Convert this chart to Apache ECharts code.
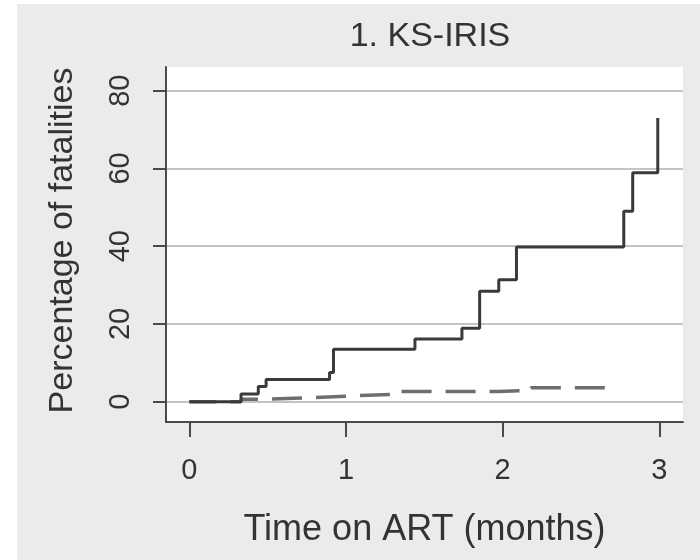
<!DOCTYPE html>
<html><head><meta charset="utf-8">
<script src="https://cdn.jsdelivr.net/npm/echarts@6/dist/echarts.min.js"></script>
<style>
html,body{margin:0;padding:0;background:#fff;}
#bg{position:absolute;left:17px;top:4px;width:683px;height:556px;background:#ebebeb;}
#c{position:absolute;left:0;top:0;width:700px;height:560px;}
</style></head><body>
<div id="bg"></div><div id="c"></div>
<script>
const titleText = '1. KS-IRIS';
const xAxisTitle = 'Time on ART (months)';
const yAxisTitle = 'Percentage of fatalities';
const xTicks = [0, 1, 2, 3];
const yTicks = [0, 20, 40, 60, 80];

// solid curve (step function, value holds from time onward)
const solidTime  = [0, 0.33, 0.44, 0.49, 0.895, 0.92, 1.44, 1.74, 1.853, 1.975, 2.088, 2.773, 2.83, 2.99];
const solidValue = [0, 2.0, 3.9, 5.7, 7.5, 13.5, 16.1, 18.9, 28.4, 31.4, 39.8, 49.0, 58.9, 73.0];

// dashed curve
const dashedTime  = [0, 0.33, 0.45, 0.8, 1.05, 1.35, 1.97, 2.18, 2.71];
const dashedValue = [0, 0.6, 1.1, 1.5, 2.0, 2.6, 2.9, 3.6, 3.6];

const FONT = 'Liberation Sans, Arial, Helvetica, sans-serif';
const TEXT = '#333333';
const AXIS = '#4a4a4a';

const zip = (a, b) => a.map((v, i) => [v, b[i]]);

const chart = echarts.init(document.getElementById('c'));
chart.setOption({
  backgroundColor: 'transparent',
  animation: false,
  title: {
    text: titleText,
    left: 425, top: 15, textAlign: 'center',
    textStyle: { fontFamily: FONT, fontSize: 34, fontWeight: 'normal', color: TEXT }
  },
  grid: {
    left: 166, right: 17, top: 67, bottom: 138,
    show: true, backgroundColor: '#ffffff', borderWidth: 0
  },
  xAxis: {
    type: 'value', min: -0.149, max: 3.151,
    name: xAxisTitle, nameLocation: 'middle', nameGap: 90,
    nameTextStyle: { fontFamily: FONT, fontSize: 36, color: TEXT },
    axisLine: { show: true, onZero: false, lineStyle: { color: AXIS, width: 2 } },
    axisTick: { show: true, customValues: xTicks, length: 15, inside: false, lineStyle: { color: AXIS, width: 2 } },
    axisLabel: { customValues: xTicks, margin: 34, fontFamily: FONT, fontSize: 29, color: TEXT },
    splitLine: { show: false }
  },
  yAxis: {
    type: 'value', min: -5.22, max: 86.09,
    name: yAxisTitle, nameLocation: 'middle', nameGap: 86, nameRotate: 90,
    nameTextStyle: { fontFamily: FONT, fontSize: 34, color: TEXT, padding: [0, 0, 0, 8] },
    axisLine: { show: true, onZero: false, lineStyle: { color: AXIS, width: 2 } },
    axisTick: { show: true, customValues: yTicks, length: 13, lineStyle: { color: AXIS, width: 2 } },
    axisLabel: { customValues: yTicks, rotate: 90, margin: 31, fontFamily: FONT, fontSize: 29, color: TEXT },
    splitLine: { show: true, lineStyle: { color: '#c4c4c4', width: 2 } }
  },
  series: [
    {
      type: 'line', step: 'end', data: zip(dashedTime, dashedValue),
      showSymbol: false, z: 2,
      lineStyle: { color: '#6e6e6e', width: 3.5, type: [30, 14], dashOffset: 3 }
    },
    {
      type: 'line', step: 'end', data: zip(solidTime, solidValue),
      showSymbol: false, z: 3,
      lineStyle: { color: '#3a3a3a', width: 3, type: 'solid' }
    }
  ]
});
</script>
</body></html>
